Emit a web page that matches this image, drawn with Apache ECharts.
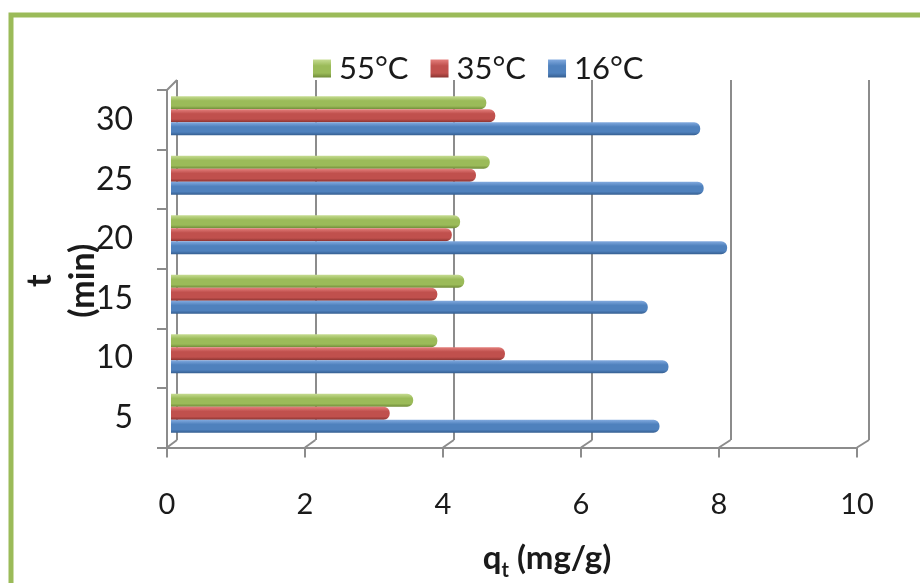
<!DOCTYPE html>
<html>
<head>
<meta charset="utf-8">
<script src="https://cdn.jsdelivr.net/npm/echarts@6/dist/echarts.min.js"></script>
<style>
html,body{margin:0;padding:0;background:#fff;}
#chart{width:920px;height:583px;}
</style>
</head>
<body>
<div id="chart"></div>
<script>
// ---- data ----
var categories = ['5', '10', '15', '20', '25', '30'];
var seriesNames = ['55°C', '35°C', '16°C'];
var q55 = [3.51, 3.86, 4.25, 4.19, 4.62, 4.57];
var q35 = [3.17, 4.84, 3.86, 4.07, 4.42, 4.70];
var q16 = [7.08, 7.21, 6.91, 8.06, 7.72, 7.67];
var xTicks = [0, 2, 4, 6, 8, 10];

// ---- style ----
var FONT = 'Lato';
var GRID_COLOR = '#8c8c8c';
var palette = [
  ['#c6dc92', '#9bbb59', '#6f8b38'],
  ['#e47f7c', '#c0504d', '#8a3330'],
  ['#82aadf', '#4f81bd', '#355e90']
];
function grad(c) {
  return new echarts.graphic.LinearGradient(0, 0, 0, 1, [
    {offset: 0, color: c[0]},
    {offset: 0.35, color: c[1]},
    {offset: 0.75, color: c[1]},
    {offset: 1, color: c[2]}
  ]);
}
var values = [q55, q35, q16];

var chart = echarts.init(document.getElementById('chart'), null, {renderer: 'canvas'});

var option = {
  backgroundColor: '#ffffff',
  animation: false,
  textStyle: {fontFamily: FONT},
  legend: {
    data: seriesNames,
    left: 313,
    top: 53,
    padding: 0,
    itemWidth: 18,
    itemHeight: 18,
    itemGap: 22,
    icon: 'rect',
    textStyle: {fontFamily: FONT, fontSize: 31, color: '#1a1a1a', padding: [0, 0, 0, 3], lineHeight: 18}
  },
  grid: [
    // back wall
    {left: 177, right: 51, top: 80, bottom: 143, outerBoundsMode: 'none', containLabel: false},
    // front axes
    {left: 167, right: 63, top: 90, bottom: 135.5, outerBoundsMode: 'none', containLabel: false},
    // bars (mid depth)
    {left: 171, right: 59, top: 86, bottom: 140, outerBoundsMode: 'none', containLabel: false}
  ],
  xAxis: [
    {
      gridIndex: 0, type: 'value', min: 0, max: 10, interval: 2,
      axisLine: {show: false}, axisTick: {show: false}, axisLabel: {show: false},
      splitLine: {show: true, showMinLine: true, showMaxLine: true, lineStyle: {color: GRID_COLOR, width: 2}}
    },
    {
      gridIndex: 1, type: 'value', min: 0, max: 10, interval: 2,
      axisLine: {show: true, lineStyle: {color: GRID_COLOR, width: 2}},
      axisTick: {show: true, length: 10, lineStyle: {color: GRID_COLOR, width: 2}},
      axisLabel: {show: true, margin: 43, fontFamily: FONT, fontSize: 29, color: '#1a1a1a'},
      splitLine: {show: false},
      name: '{q|q}{s|t}{n| (mg/g)}',
      nameLocation: 'middle',
      nameGap: 91,
      nameMoveOverlap: false,
      nameTextStyle: {
        padding: [0, 0, 0, 70],
        rich: {
          q: {fontFamily: FONT, fontWeight: 'bold', fontSize: 33, color: '#1a1a1a', lineHeight: 36, verticalAlign: 'bottom'},
          s: {fontFamily: FONT, fontWeight: 'bold', fontSize: 20, color: '#1a1a1a', lineHeight: 36, verticalAlign: 'bottom', padding: [0, 0, -6, 0]},
          n: {fontFamily: FONT, fontWeight: 'bold', fontSize: 33, color: '#1a1a1a', lineHeight: 36, verticalAlign: 'bottom'}
        }
      }
    },
    {
      gridIndex: 2, type: 'value', min: 0, max: 10, interval: 2,
      show: false
    }
  ],
  yAxis: [
    {gridIndex: 0, type: 'value', min: 0, max: 1, show: false},
    {
      gridIndex: 1, type: 'category', data: categories,
      axisLine: {show: true, lineStyle: {color: GRID_COLOR, width: 2}},
      axisTick: {show: true, length: 10, lineStyle: {color: GRID_COLOR, width: 2}},
      axisLabel: {margin: 34, fontFamily: FONT, fontSize: 32, color: '#1a1a1a'},
      name: 't\n(min)',
      nameLocation: 'middle',
      nameRotate: 90,
      nameGap: 62,
      nameMoveOverlap: false,
      nameTextStyle: {fontFamily: FONT, fontWeight: 'bold', fontSize: 34, lineHeight: 43, color: '#1a1a1a', padding: [0, 24, 0, 0]}
    },
    {gridIndex: 2, type: 'category', data: categories, show: false}
  ],
  series: seriesNames.map(function (name, i) {
    return {
      name: name,
      type: 'bar',
      xAxisIndex: 2,
      yAxisIndex: 2,
      data: values[i],
      barWidth: 13,
      barGap: '0%',
      itemStyle: {color: grad(palette[i]), borderRadius: [0, 6, 6, 0]},
      emphasis: {disabled: true}
    };
  }),
  color: palette.map(function (c) { return c[1]; })
};

chart.setOption(option);

// depth edges of the 3D frame, computed from the axes
function edges() {
  var els = [];
  var lineStyle = {stroke: GRID_COLOR, lineWidth: 2};
  var backBottom = chart.convertToPixel({gridIndex: 0}, [0, 0])[1];
  var backTop = chart.convertToPixel({gridIndex: 0}, [0, 1])[1];
  var frontRect = chart.getModel().getComponent('grid', 1).coordinateSystem.getRect();
  var frontBottom = frontRect.y + frontRect.height;
  var frontTop = frontRect.y;
  xTicks.forEach(function (v) {
    var xb = chart.convertToPixel({xAxisIndex: 0}, v);
    var xf = chart.convertToPixel({xAxisIndex: 1}, v);
    els.push({type: 'line', shape: {x1: xf, y1: frontBottom, x2: xb, y2: backBottom}, style: lineStyle, silent: true});
  });
  var xb0 = chart.convertToPixel({xAxisIndex: 0}, 0);
  var xf0 = chart.convertToPixel({xAxisIndex: 1}, 0);
  els.push({type: 'line', shape: {x1: xf0, y1: frontTop, x2: xb0, y2: backTop}, style: lineStyle, silent: true});
  // outer frame
  els.push({type: 'rect', shape: {x: 11, y: 15, width: 1000, height: 700}, style: {fill: 'none', stroke: '#9bbb59', lineWidth: 5}, silent: true, z: 100});
  chart.setOption({graphic: {elements: els}});
}
edges();
</script>
</body>
</html>
